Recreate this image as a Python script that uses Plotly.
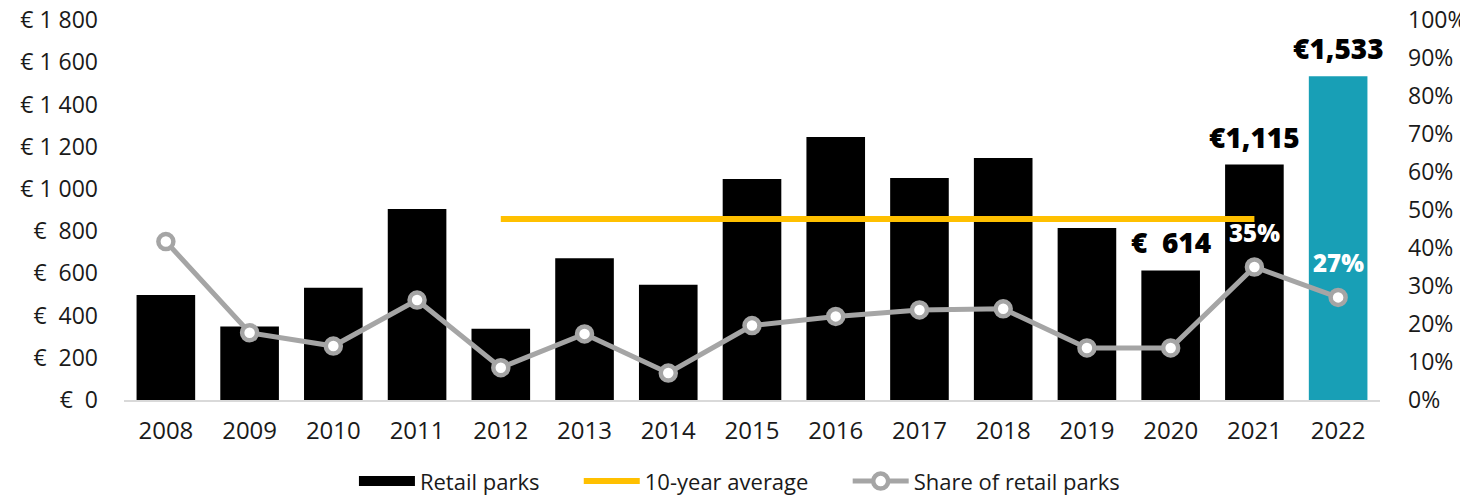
import plotly.graph_objects as go

years = [2008, 2009, 2010, 2011, 2012, 2013, 2014, 2015,
         2016, 2017, 2018, 2019, 2020, 2021, 2022]
year_labels = ["2008", "2009", "2010", "2011", "2012", "2013", "2014", "2015",
               "2016", "2017", "2018", "2019", "2020", "2021", "2022"]
retail_parks = [497, 348, 532, 905, 338, 671, 546, 1047, 1246, 1052, 1146, 815, 614, 1115, 1533]
share_retail = [0.417, 0.177, 0.142, 0.263, 0.085, 0.174, 0.071, 0.196, 0.220, 0.237, 0.240,
                0.137, 0.137, 0.35, 0.27]
avg_years = [2012, 2013, 2014, 2015, 2016, 2017, 2018, 2019, 2020, 2021]
avg_values = [857, 857, 857, 857, 857, 857, 857, 857, 857, 857]

left_tickvals = [0, 200, 400, 600, 800, 1000, 1200, 1400, 1600, 1800]
left_ticktext = ["€\u00a0\u00a00", "€\u00a0\u00a0200", "€\u00a0\u00a0400", "€\u00a0\u00a0600",
                 "€\u00a0\u00a0800", "€ 1 000", "€ 1 200", "€ 1 400", "€ 1 600", "€ 1 800"]

bar_value_labels = {2020: "€\u00a0\u00a0614", 2021: "€1,115", 2022: "€1,533"}
share_value_labels = {2021: "35%", 2022: "27%"}

legend_names = ["Retail parks", "10-year average", "Share of retail parks"]
PAD = "\u00a0" * 6

BLACK = "#000000"
TEAL = "#189FB6"
YELLOW = "#FFC000"
GREY = "#A5A5A5"
FONT = "Open Sans"
TXT = "#1a1a1a"

bar_colors = [BLACK] * (len(years) - 1) + [TEAL]

fig = go.Figure()
fig.add_trace(go.Bar(
    x=years, y=retail_parks, name=legend_names[0],
    marker=dict(color=bar_colors, line=dict(width=0)),
    width=0.7, yaxis="y", showlegend=False,
))
# legend entry for bars drawn as a wide black block (like the reference)
fig.add_trace(go.Scatter(
    x=[None], y=[None], name=legend_names[0] + PAD, mode="lines",
    line=dict(color=BLACK, width=14), yaxis="y",
))
fig.add_trace(go.Scatter(
    x=avg_years, y=avg_values, name=legend_names[1] + PAD, mode="lines",
    line=dict(color=YELLOW, width=6), yaxis="y",
))
fig.add_trace(go.Scatter(
    x=years, y=share_retail, name=legend_names[2], mode="lines+markers",
    line=dict(color=GREY, width=5),
    marker=dict(symbol="circle", size=15, color="white", line=dict(color=GREY, width=4.5)),
    yaxis="y2",
))

annotations = []
for yr, txt in bar_value_labels.items():
    i = years.index(yr)
    annotations.append(dict(
        x=yr, y=retail_parks[i], xref="x", yref="y", text=txt, showarrow=False,
        yanchor="bottom", yshift=7,
        font=dict(family=FONT, size=28, color="black", weight=800),
    ))
for yr, txt in share_value_labels.items():
    i = years.index(yr)
    annotations.append(dict(
        x=yr, y=share_retail[i], xref="x", yref="y2", text=txt, showarrow=False,
        yanchor="middle", yshift=35,
        font=dict(family=FONT, size=24, color="white", weight=800),
    ))

fig.update_layout(
    width=1460, height=497,
    margin=dict(l=116, r=88, t=12, b=105, autoexpand=False),
    paper_bgcolor="white", plot_bgcolor="white",
    font=dict(family=FONT, size=24, color=TXT),
    showlegend=True,
    legend=dict(orientation="h", x=0.49, xanchor="center", y=-0.214, yanchor="middle",
                font=dict(family=FONT, size=22, color=TXT), itemwidth=56,
                traceorder="normal"),
    xaxis=dict(range=[2007.5, 2022.5], tickvals=years, ticktext=year_labels,
               showgrid=False, showline=True, linecolor="#D9D9D9", zeroline=False,
               linewidth=2, ticks="", tickfont=dict(size=24), ticklabelstandoff=8,
               automargin=False),
    yaxis=dict(range=[0, 1800], tickvals=left_tickvals, ticktext=left_ticktext,
               showgrid=False, zeroline=False, showline=False, ticks="",
               ticklabelstandoff=25, tickfont=dict(size=23), automargin=False,
               ticklabeloverflow="allow"),
    yaxis2=dict(range=[0, 1], overlaying="y", side="right", dtick=0.1, tickformat=".0%",
                showgrid=False, zeroline=False, showline=False, ticks="",
                ticklabelstandoff=27, tickfont=dict(size=23), automargin=False,
                ticklabeloverflow="allow"),
    annotations=annotations,
)

fig.write_html("out.html")
